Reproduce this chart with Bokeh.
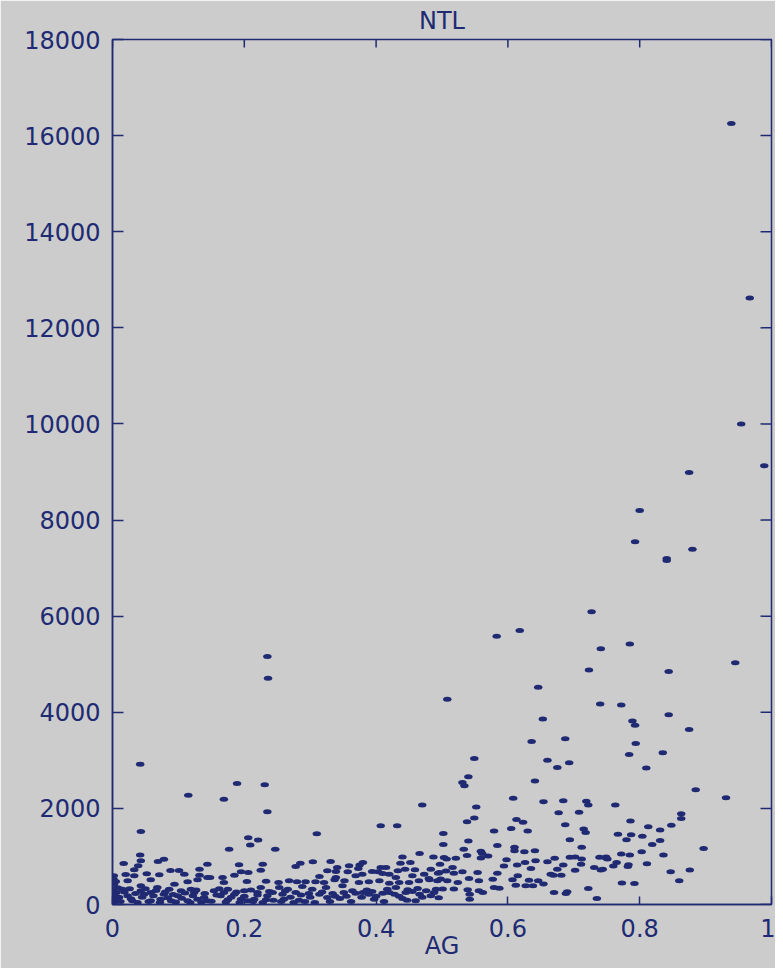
import math
from bokeh.plotting import figure
from bokeh.models import Range1d, FixedTicker, ColumnDataSource
from bokeh.embed import file_html
from bokeh.resources import INLINE

BG = "#cccccc"
NAVY = "#202a72"
FONT = "DejaVu Sans"

# (AG, NTL) pairs
pts_high = [
    (0.939, 16250), (0.967, 12620), (0.954, 10000), (0.989, 9130), (0.875, 8990),
    (0.800, 8200), (0.793, 7550), (0.880, 7390), (0.841, 7200), (0.841, 7160),
    (0.727, 6090), (0.583, 5580), (0.618, 5700), (0.741, 5320), (0.785, 5420),
    (0.945, 5030), (0.723, 4880), (0.844, 4850), (0.646, 4520), (0.508, 4270),
    (0.740, 4170), (0.772, 4150), (0.844, 3950), (0.653, 3860), (0.789, 3820),
    (0.793, 3730), (0.875, 3640), (0.636, 3390), (0.687, 3450), (0.794, 3350),
    (0.784, 3120), (0.835, 3160), (0.549, 3040), (0.660, 3000), (0.693, 2950),
    (0.675, 2850), (0.810, 2840), (0.540, 2660), (0.531, 2540), (0.534, 2470),
    (0.641, 2570), (0.885, 2390), (0.931, 2220), (0.608, 2210), (0.654, 2140),
    (0.684, 2160), (0.719, 2150), (0.722, 2070), (0.763, 2070), (0.552, 2030),
    (0.470, 2070), (0.677, 1910), (0.708, 1920), (0.863, 1890), (0.863, 1790),
    (0.549, 1800), (0.786, 1740), (0.538, 1720), (0.613, 1770), (0.623, 1710),
    (0.687, 1660), (0.848, 1650), (0.813, 1620), (0.831, 1550), (0.605, 1580),
    (0.630, 1530), (0.579, 1530), (0.715, 1570), (0.718, 1500), (0.502, 1480),
    (0.767, 1460), (0.787, 1450), (0.804, 1420), (0.780, 1350), (0.831, 1330),
    (0.694, 1350), (0.540, 1320), (0.502, 1250), (0.819, 1250), (0.584, 1230),
    (0.712, 1190), (0.610, 1190), (0.897, 1165), (0.533, 1150), (0.559, 1110),
    (0.610, 1120), (0.641, 1120), (0.625, 1100), (0.803, 1100), (0.561, 1060),
    (0.772, 1050), (0.466, 1060), (0.785, 1030), (0.836, 1030), (0.538, 1020),
    (0.570, 1010),
    (0.235, 5160), (0.236, 4710), (0.042, 2920), (0.189, 2520), (0.231, 2490),
    (0.115, 2275), (0.169, 2190), (0.235, 1930), (0.043, 1520), (0.206, 1390),
    (0.221, 1340), (0.209, 1240), (0.177, 1150), (0.247, 1150), (0.310, 1470),
    (0.407, 1640), (0.432, 1640), (0.042, 1030),
]

pts_right_band = [
    (0.440, 990), (0.487, 990), (0.749, 990), (0.694, 985), (0.702, 990),
    (0.739, 985), (0.503, 980), (0.507, 945), (0.521, 965), (0.559, 970),
    (0.671, 965), (0.749, 970), (0.751, 945), (0.712, 945), (0.598, 930),
    (0.642, 910), (0.660, 890), (0.626, 875), (0.765, 875), (0.614, 820),
    (0.684, 820), (0.783, 826), (0.811, 846), (0.711, 840), (0.497, 840),
    (0.594, 800), (0.760, 800), (0.782, 790), (0.635, 750), (0.731, 770),
    (0.516, 770), (0.675, 735), (0.744, 735), (0.741, 720), (0.876, 720),
    (0.702, 715), (0.847, 680), (0.506, 695), (0.496, 665), (0.531, 680),
    (0.554, 665), (0.518, 650), (0.584, 650), (0.665, 630), (0.681, 610),
    (0.669, 610), (0.615, 600), (0.498, 530), (0.541, 540), (0.577, 525),
    (0.607, 515), (0.632, 505), (0.508, 495), (0.556, 495), (0.646, 495),
    (0.860, 495), (0.524, 460), (0.773, 445), (0.792, 437), (0.654, 425),
    (0.612, 400), (0.627, 390), (0.638, 390), (0.579, 355), (0.587, 340),
    (0.722, 335), (0.501, 320), (0.518, 320), (0.539, 305), (0.556, 285),
    (0.690, 265), (0.562, 250), (0.670, 250), (0.688, 230), (0.542, 215),
    (0.735, 125), (0.542, 110),
]

pts_mid_band = [
    (0.304, 890), (0.285, 860), (0.278, 790), (0.331, 895), (0.359, 805),
    (0.380, 875), (0.375, 820), (0.341, 770), (0.407, 770), (0.415, 770),
    (0.437, 860), (0.452, 875), (0.483, 735), (0.326, 700), (0.339, 687),
    (0.357, 680), (0.373, 750), (0.394, 687), (0.403, 680), (0.420, 632),
    (0.433, 700), (0.444, 736), (0.459, 722), (0.473, 632), (0.494, 652),
    (0.314, 583), (0.339, 562), (0.369, 597), (0.379, 632), (0.410, 645),
    (0.430, 562), (0.455, 597), (0.480, 541), (0.252, 458), (0.268, 493),
    (0.280, 472), (0.293, 472), (0.308, 472), (0.321, 458), (0.337, 514),
    (0.352, 493), (0.374, 458), (0.389, 472), (0.405, 493), (0.420, 444),
    (0.435, 458), (0.450, 458), (0.465, 493), (0.481, 514), (0.493, 493),
    (0.253, 354), (0.266, 319), (0.288, 375), (0.303, 319), (0.324, 354),
    (0.349, 389), (0.364, 285), (0.380, 250), (0.394, 271), (0.417, 319),
    (0.430, 354), (0.448, 305), (0.463, 333), (0.476, 285), (0.491, 319),
    (0.258, 215), (0.278, 250), (0.298, 229), (0.314, 215), (0.334, 229),
    (0.351, 250), (0.369, 236), (0.389, 215), (0.410, 236), (0.428, 215),
    (0.445, 250), (0.466, 215), (0.483, 180), (0.260, 111), (0.283, 90),
    (0.326, 146), (0.345, 125), (0.460, 76), (0.397, 111), (0.440, 125),
    (0.256, 60), (0.262, 280), (0.270, 150), (0.275, 40), (0.286, 200),
    (0.292, 60), (0.300, 150), (0.307, 40), (0.318, 260), (0.330, 60),
    (0.338, 170), (0.355, 170), (0.362, 60), (0.378, 150), (0.386, 300),
    (0.400, 170), (0.412, 60), (0.420, 250), (0.435, 170), (0.447, 90),
    (0.455, 270), (0.470, 150), (0.488, 250), (0.495, 140),
]

pts_left_band = [
    (0.017, 854), (0.039, 805), (0.043, 909), (0.069, 895), (0.078, 944),
    (0.033, 722), (0.052, 638), (0.088, 708), (0.101, 708), (0.109, 631),
    (0.132, 735), (0.144, 840), (0.192, 826), (0.228, 840), (0.225, 715),
    (0.195, 680), (0.206, 666), (0.185, 610), (0.020, 625), (0.071, 618),
    (0.132, 611), (0.148, 562), (0.167, 562), (0.169, 458), (0.204, 479),
    (0.233, 486), (0.033, 597), (0.023, 493), (0.058, 514), (0.114, 472),
    (0.144, 562), (0.129, 514), (0.094, 423), (0.043, 389), (0.015, 319),
    (0.068, 354), (0.086, 319), (0.119, 319), (0.154, 285), (0.175, 319),
    (0.200, 285), (0.225, 354), (0.243, 250), (0.023, 180), (0.048, 215),
    (0.078, 215), (0.099, 180), (0.124, 250), (0.139, 146), (0.164, 180),
    (0.185, 215), (0.215, 111), (0.235, 180), (0.030, 76), (0.058, 76),
    (0.089, 76), (0.114, 76), (0.144, 76), (0.175, 97), (0.205, 76),
    (0.233, 97), (0.002, 597), (0.002, 514), (0.002, 423), (0.002, 319),
    (0.002, 215), (0.002, 111), (0.002, 42), (0.043, 285), (0.058, 250),
    (0.104, 285), (0.129, 111), (0.073, 111), (0.195, 111), (0.169, 250),
    (0.220, 250), (0.008, 350), (0.010, 150), (0.012, 60), (0.018, 260),
    (0.026, 330), (0.028, 120), (0.035, 230), (0.038, 40), (0.045, 150),
    (0.050, 330), (0.055, 60), (0.062, 180), (0.066, 290), (0.072, 40),
    (0.080, 260), (0.084, 140), (0.092, 210), (0.096, 50), (0.105, 130),
    (0.110, 240), (0.118, 40), (0.122, 180), (0.127, 300), (0.135, 50),
    (0.140, 230), (0.150, 70), (0.158, 200), (0.162, 330), (0.172, 50),
    (0.180, 150), (0.188, 260), (0.193, 40), (0.200, 170), (0.210, 300),
    (0.213, 60), (0.220, 200), (0.228, 40), (0.238, 270), (0.244, 90),
    (0.005, 480), (0.006, 250), (0.004, 140),
]

x_range_limits = (0, 1)
y_range_limits = (0, 18000)
x_ticks = [0, 0.2, 0.4, 0.6, 0.8, 1]
x_tick_labels = ["0", "0.2", "0.4", "0.6", "0.8", "1"]
y_ticks = [0, 2000, 4000, 6000, 8000, 10000, 12000, 14000, 16000, 18000]
y_tick_labels = ["0", "2000", "4000", "6000", "8000", "10000", "12000", "14000", "16000", "18000"]

all_pts = pts_high + pts_right_band + pts_mid_band + pts_left_band
ag = [p_[0] for p_ in all_pts]
ntl = [p_[1] for p_ in all_pts]
src = ColumnDataSource(data=dict(ag=ag, ntl=ntl))

p = figure(width=775, height=968,
           x_range=Range1d(*x_range_limits), y_range=Range1d(*y_range_limits),
           output_backend="svg", toolbar_location=None, title="NTL",
           background_fill_color=BG, border_fill_color=BG,
           min_border_left=112, min_border_right=4, min_border_top=39, min_border_bottom=64)
p.outline_line_color = NAVY
p.outline_line_width = 1.5
p.xgrid.grid_line_color = None
p.ygrid.grid_line_color = None

p.ellipse(x="ag", y="ntl", width=8.5, height=5, width_units="screen", height_units="screen",
          source=src, fill_color=NAVY, line_color=None)

# inward tick marks on the top and right edges of the box
p.ray(x=x_ticks, y=[y_range_limits[1]] * len(x_ticks), length=8, length_units="screen",
      angle=-math.pi / 2, line_color=NAVY, line_width=1.5)
p.ray(x=[x_range_limits[1]] * len(y_ticks), y=y_ticks, length=11, length_units="screen",
      angle=math.pi, line_color=NAVY, line_width=1.5)

p.title.text_font = FONT
p.title.text_font_size = "24px"
p.title.text_font_style = "normal"
p.title.text_color = NAVY
p.title.align = "center"
p.title.standoff = 9

def style(ax, ticks, labels, tick_in):
    ax.ticker = FixedTicker(ticks=ticks)
    ax.major_label_overrides = {t: l for t, l in zip(ticks, labels)}
    ax.axis_line_color = NAVY
    ax.axis_line_width = 1.5
    ax.major_tick_line_color = NAVY
    ax.major_tick_line_width = 1.5
    ax.major_tick_in = tick_in
    ax.major_tick_out = 0
    ax.minor_tick_line_color = None
    ax.major_label_text_color = NAVY
    ax.major_label_text_font = FONT
    ax.major_label_text_font_size = "24px"

style(p.xaxis[0], x_ticks, x_tick_labels, 8)
style(p.yaxis[0], y_ticks, y_tick_labels, 11)
p.xaxis[0].major_label_standoff = 14
p.yaxis[0].major_label_standoff = 12
p.xaxis[0].axis_label = "AG"
p.xaxis[0].axis_label_text_font = FONT
p.xaxis[0].axis_label_text_font_size = "24px"
p.xaxis[0].axis_label_text_font_style = "normal"
p.xaxis[0].axis_label_text_color = NAVY
p.xaxis[0].axis_label_standoff = -8

open("out.html", "w").write(file_html(p, INLINE))
